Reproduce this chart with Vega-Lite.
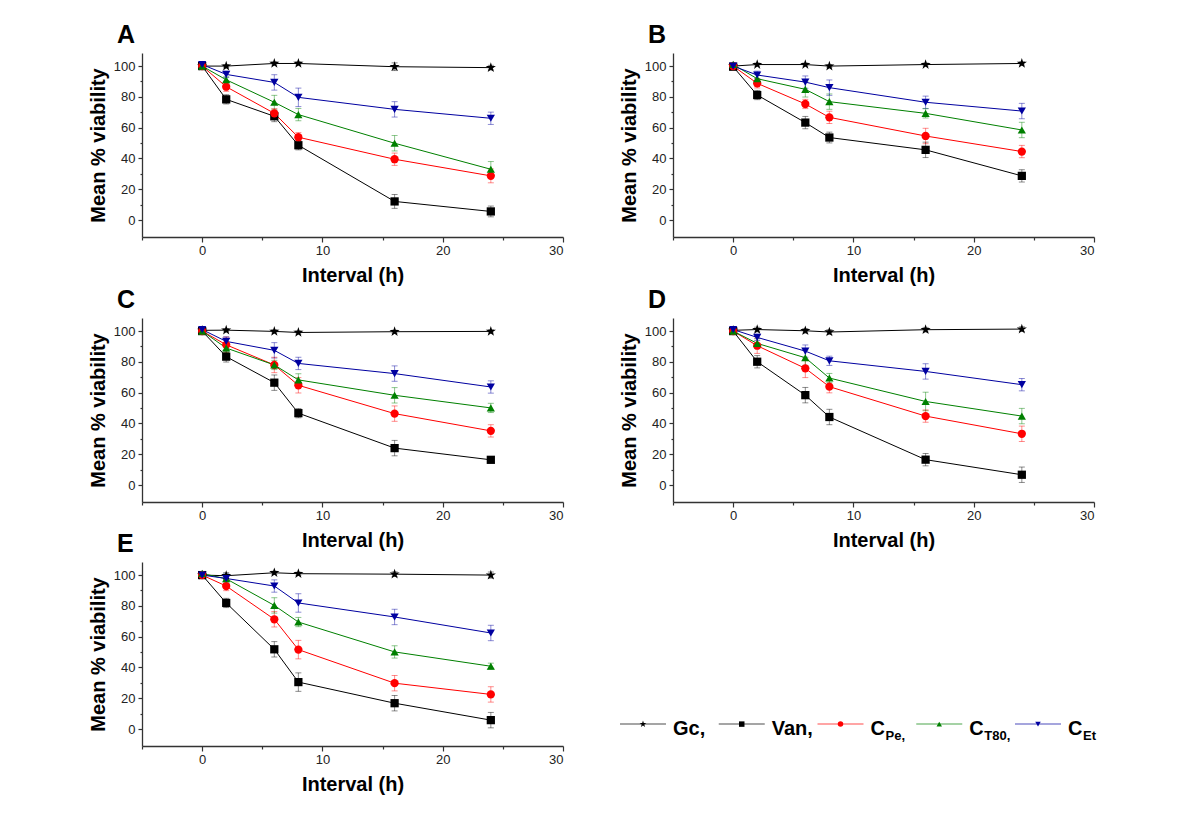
{
"$schema":"https://vega.github.io/schema/vega-lite/v6.json",
"padding":{"left":88,"top":23,"right":5,"bottom":5},
"background":"#ffffff",
"config":{
 "font":"Liberation Sans",
 "view":{"stroke":null},
 "axis":{"grid":false,"domainColor":"#333333","tickColor":"#333333","labelColor":"#222222","labelFontSize":13,"titleFontSize":20,"titleFontWeight":"bold","titleColor":"#000000","domainWidth":1.3,"tickWidth":1.2},
 "axisX":{"labelPadding":2,"titlePadding":8},
 "axisY":{"labelPadding":3,"titlePadding":5},
 "title":{"fontSize":25,"fontWeight":"bold","anchor":"start","frame":"group","dx":-25,"baseline":"alphabetic","offset":5,"color":"#000000"}
},
"datasets":{
"rows":[
{"p":"A","s":"Gc","t":0,"v":100,"e":1},{"p":"A","s":"Gc","t":2,"v":100,"e":1},{"p":"A","s":"Gc","t":6,"v":101.7,"e":1},{"p":"A","s":"Gc","t":8,"v":101.7,"e":1},{"p":"A","s":"Gc","t":16,"v":99.6,"e":2.5},{"p":"A","s":"Gc","t":24,"v":99,"e":1.5},
{"p":"A","s":"Van","t":0,"v":100,"e":1},{"p":"A","s":"Van","t":2,"v":78.4,"e":3},{"p":"A","s":"Van","t":6,"v":67.4,"e":3.5},{"p":"A","s":"Van","t":8,"v":48.6,"e":3},{"p":"A","s":"Van","t":16,"v":12.1,"e":4.5},{"p":"A","s":"Van","t":24,"v":5.6,"e":3.5},
{"p":"A","s":"CPe","t":0,"v":100,"e":1},{"p":"A","s":"CPe","t":2,"v":86.6,"e":3},{"p":"A","s":"CPe","t":6,"v":69.3,"e":3},{"p":"A","s":"CPe","t":8,"v":53.8,"e":3},{"p":"A","s":"CPe","t":16,"v":39.5,"e":4},{"p":"A","s":"CPe","t":24,"v":28.7,"e":4.5},
{"p":"A","s":"CT80","t":0,"v":100,"e":1},{"p":"A","s":"CT80","t":2,"v":91.1,"e":2},{"p":"A","s":"CT80","t":6,"v":76.5,"e":4.5},{"p":"A","s":"CT80","t":8,"v":68.5,"e":4},{"p":"A","s":"CT80","t":16,"v":49.9,"e":5},{"p":"A","s":"CT80","t":24,"v":33,"e":5},
{"p":"A","s":"CEt","t":0,"v":101,"e":1},{"p":"A","s":"CEt","t":2,"v":94.6,"e":2},{"p":"A","s":"CEt","t":6,"v":89.4,"e":5},{"p":"A","s":"CEt","t":8,"v":79.7,"e":6},{"p":"A","s":"CEt","t":16,"v":71.9,"e":5},{"p":"A","s":"CEt","t":24,"v":66.1,"e":4},
{"p":"B","s":"Gc","t":0,"v":100,"e":1},{"p":"B","s":"Gc","t":2,"v":101,"e":1},{"p":"B","s":"Gc","t":6,"v":101,"e":1},{"p":"B","s":"Gc","t":8,"v":100,"e":1},{"p":"B","s":"Gc","t":16,"v":101,"e":1},{"p":"B","s":"Gc","t":24,"v":101.7,"e":1},
{"p":"B","s":"Van","t":0,"v":99.6,"e":1},{"p":"B","s":"Van","t":2,"v":81.2,"e":3},{"p":"B","s":"Van","t":6,"v":63.3,"e":4},{"p":"B","s":"Van","t":8,"v":53.6,"e":3.5},{"p":"B","s":"Van","t":16,"v":45.6,"e":5},{"p":"B","s":"Van","t":24,"v":28.7,"e":4},
{"p":"B","s":"CPe","t":0,"v":100,"e":1},{"p":"B","s":"CPe","t":2,"v":88.8,"e":3},{"p":"B","s":"CPe","t":6,"v":75.4,"e":3},{"p":"B","s":"CPe","t":8,"v":66.7,"e":4},{"p":"B","s":"CPe","t":16,"v":54.6,"e":5},{"p":"B","s":"CPe","t":24,"v":44.5,"e":4},
{"p":"B","s":"CT80","t":0,"v":101,"e":1},{"p":"B","s":"CT80","t":2,"v":91.8,"e":3},{"p":"B","s":"CT80","t":6,"v":84.9,"e":5},{"p":"B","s":"CT80","t":8,"v":76.9,"e":5},{"p":"B","s":"CT80","t":16,"v":69.3,"e":3},{"p":"B","s":"CT80","t":24,"v":58.5,"e":5},
{"p":"B","s":"CEt","t":0,"v":100,"e":1},{"p":"B","s":"CEt","t":2,"v":94.2,"e":2.5},{"p":"B","s":"CEt","t":6,"v":89.6,"e":4},{"p":"B","s":"CEt","t":8,"v":86,"e":5},{"p":"B","s":"CEt","t":16,"v":76.5,"e":4},{"p":"B","s":"CEt","t":24,"v":70.8,"e":5},
{"p":"C","s":"Gc","t":0,"v":100.5,"e":1},{"p":"C","s":"Gc","t":2,"v":100.6,"e":1},{"p":"C","s":"Gc","t":6,"v":99.8,"e":1},{"p":"C","s":"Gc","t":8,"v":99.1,"e":1},{"p":"C","s":"Gc","t":16,"v":99.6,"e":1},{"p":"C","s":"Gc","t":24,"v":99.8,"e":1},
{"p":"C","s":"Van","t":0,"v":100,"e":1},{"p":"C","s":"Van","t":2,"v":83.4,"e":3.5},{"p":"C","s":"Van","t":6,"v":66.5,"e":5},{"p":"C","s":"Van","t":8,"v":46.7,"e":3},{"p":"C","s":"Van","t":16,"v":24,"e":5},{"p":"C","s":"Van","t":24,"v":16.4,"e":1.5},
{"p":"C","s":"CPe","t":0,"v":100,"e":1},{"p":"C","s":"CPe","t":2,"v":91.1,"e":5},{"p":"C","s":"CPe","t":6,"v":78,"e":5},{"p":"C","s":"CPe","t":8,"v":64.8,"e":5},{"p":"C","s":"CPe","t":16,"v":46.4,"e":5},{"p":"C","s":"CPe","t":24,"v":35.2,"e":4},
{"p":"C","s":"CT80","t":0,"v":100,"e":1},{"p":"C","s":"CT80","t":2,"v":89,"e":3},{"p":"C","s":"CT80","t":6,"v":78,"e":3},{"p":"C","s":"CT80","t":8,"v":68.3,"e":4},{"p":"C","s":"CT80","t":16,"v":58.3,"e":5},{"p":"C","s":"CT80","t":24,"v":50.1,"e":3},
{"p":"C","s":"CEt","t":0,"v":101,"e":1},{"p":"C","s":"CEt","t":2,"v":93.3,"e":3},{"p":"C","s":"CEt","t":6,"v":87.5,"e":5},{"p":"C","s":"CEt","t":8,"v":79,"e":4},{"p":"C","s":"CEt","t":16,"v":72.4,"e":5},{"p":"C","s":"CEt","t":24,"v":63.7,"e":4},
{"p":"D","s":"Gc","t":0,"v":100.5,"e":1.5},{"p":"D","s":"Gc","t":2,"v":101,"e":1.5},{"p":"D","s":"Gc","t":6,"v":100.2,"e":1.5},{"p":"D","s":"Gc","t":8,"v":99.4,"e":1.5},{"p":"D","s":"Gc","t":16,"v":100.9,"e":1.5},{"p":"D","s":"Gc","t":24,"v":101.3,"e":1.5},
{"p":"D","s":"Van","t":0,"v":100,"e":1},{"p":"D","s":"Van","t":2,"v":80.1,"e":4},{"p":"D","s":"Van","t":6,"v":58.4,"e":5},{"p":"D","s":"Van","t":8,"v":44.2,"e":5},{"p":"D","s":"Van","t":16,"v":16.5,"e":4},{"p":"D","s":"Van","t":24,"v":6.7,"e":5},
{"p":"D","s":"CPe","t":0,"v":100,"e":1},{"p":"D","s":"CPe","t":2,"v":90.5,"e":5},{"p":"D","s":"CPe","t":6,"v":75.8,"e":6},{"p":"D","s":"CPe","t":8,"v":63.9,"e":4},{"p":"D","s":"CPe","t":16,"v":44.8,"e":4},{"p":"D","s":"CPe","t":24,"v":33.3,"e":5},
{"p":"D","s":"CT80","t":0,"v":100,"e":1},{"p":"D","s":"CT80","t":2,"v":92,"e":3},{"p":"D","s":"CT80","t":6,"v":82.7,"e":5},{"p":"D","s":"CT80","t":8,"v":69.5,"e":3},{"p":"D","s":"CT80","t":16,"v":54.3,"e":6},{"p":"D","s":"CT80","t":24,"v":44.8,"e":5},
{"p":"D","s":"CEt","t":0,"v":101,"e":1},{"p":"D","s":"CEt","t":2,"v":95.9,"e":2},{"p":"D","s":"CEt","t":6,"v":87,"e":4},{"p":"D","s":"CEt","t":8,"v":80.7,"e":3},{"p":"D","s":"CEt","t":16,"v":73.8,"e":5},{"p":"D","s":"CEt","t":24,"v":65.2,"e":4},
{"p":"E","s":"Gc","t":0,"v":100,"e":1},{"p":"E","s":"Gc","t":2,"v":99.6,"e":2},{"p":"E","s":"Gc","t":6,"v":101.5,"e":1},{"p":"E","s":"Gc","t":8,"v":100.9,"e":1},{"p":"E","s":"Gc","t":16,"v":100.6,"e":1.5},{"p":"E","s":"Gc","t":24,"v":100,"e":2},
{"p":"E","s":"Van","t":0,"v":100,"e":1},{"p":"E","s":"Van","t":2,"v":81.9,"e":3},{"p":"E","s":"Van","t":6,"v":51.8,"e":5},{"p":"E","s":"Van","t":8,"v":30.5,"e":6},{"p":"E","s":"Van","t":16,"v":16.8,"e":5},{"p":"E","s":"Van","t":24,"v":5.8,"e":5},
{"p":"E","s":"CPe","t":0,"v":100,"e":1},{"p":"E","s":"CPe","t":2,"v":92.9,"e":3},{"p":"E","s":"CPe","t":6,"v":71.3,"e":5},{"p":"E","s":"CPe","t":8,"v":51.6,"e":6},{"p":"E","s":"CPe","t":16,"v":29.8,"e":5},{"p":"E","s":"CPe","t":24,"v":22.5,"e":5},
{"p":"E","s":"CT80","t":0,"v":101,"e":1},{"p":"E","s":"CT80","t":2,"v":97.6,"e":3},{"p":"E","s":"CT80","t":6,"v":80.3,"e":5},{"p":"E","s":"CT80","t":8,"v":69.5,"e":3},{"p":"E","s":"CT80","t":16,"v":50.1,"e":4},{"p":"E","s":"CT80","t":24,"v":40.8,"e":2},
{"p":"E","s":"CEt","t":0,"v":100,"e":1},{"p":"E","s":"CEt","t":2,"v":97.8,"e":3},{"p":"E","s":"CEt","t":6,"v":92.9,"e":4},{"p":"E","s":"CEt","t":8,"v":81.9,"e":6},{"p":"E","s":"CEt","t":16,"v":72.8,"e":5},{"p":"E","s":"CEt","t":24,"v":62.4,"e":5}
],
"legend":[
{"s":"Gc","main":"Gc,","sub":""},
{"s":"Van","main":"Van,","sub":""},
{"s":"CPe","main":"C","sub":"Pe,"},
{"s":"CT80","main":"C","sub":"T80,"},
{"s":"CEt","main":"C","sub":"Et"}
]
},
"vconcat":[
{"vconcat":[
 {"hconcat":[
  {"title":{"text":"A"},"width":421,"height":184,"data":{"name":"rows"},"transform":[{"filter":"datum.p === 'A'"}],
   "encoding":{
    "x":{"field":"t","type":"quantitative","scale":{"domain":[-5,30],"nice":false,"zero":false},"axis":{"title":"Interval (h)","values":[-5,0,5,10,15,20,25,30],"labelExpr":"datum.value % 10 === 0 ? datum.label : ''","tickSize":{"condition":{"test":"datum.value % 10 === 0","value":5},"value":3}}},
    "y":{"field":"v","type":"quantitative","scale":{"domain":[-11,108.5],"nice":false,"zero":false},"axis":{"title":"Mean % viability","values":[0,10,20,30,40,50,60,70,80,90,100],"labelExpr":"datum.value % 20 === 0 ? datum.label : ''","tickSize":{"condition":{"test":"datum.value % 20 === 0","value":4},"value":2}}},
    "color":{"field":"s","type":"nominal","scale":{"domain":["Gc","Van","CPe","CT80","CEt"],"range":["#000000","#000000","#ff0000","#008000","#0000a0"]},"legend":null}
   },
   "layer":[
    {"mark":{"type":"errorbar","ticks":{"size":6},"opacity":0.45},"encoding":{"yError":{"field":"e"}}},
    {"mark":{"type":"line","strokeWidth":1}},
    {"mark":{"type":"point","filled":true,"size":68,"opacity":1},"encoding":{"shape":{"field":"s","type":"nominal","scale":{"domain":["Gc","Van","CPe","CT80","CEt"],"range":["M0,-1.3L0.293,-0.402L1.236,-0.402L0.472,0.153L0.764,1.052L0,0.497L-0.764,1.052L-0.472,0.153L-1.236,-0.402L-0.293,-0.402Z","square","circle","triangle-up","triangle-down"]},"legend":null}}}
   ]},
  {"title":{"text":"B"},"width":421,"height":184,"data":{"name":"rows"},"transform":[{"filter":"datum.p === 'B'"}],
   "encoding":{
    "x":{"field":"t","type":"quantitative","scale":{"domain":[-5,30],"nice":false,"zero":false},"axis":{"title":"Interval (h)","values":[-5,0,5,10,15,20,25,30],"labelExpr":"datum.value % 10 === 0 ? datum.label : ''","tickSize":{"condition":{"test":"datum.value % 10 === 0","value":5},"value":3}}},
    "y":{"field":"v","type":"quantitative","scale":{"domain":[-11,108.5],"nice":false,"zero":false},"axis":{"title":"Mean % viability","values":[0,10,20,30,40,50,60,70,80,90,100],"labelExpr":"datum.value % 20 === 0 ? datum.label : ''","tickSize":{"condition":{"test":"datum.value % 20 === 0","value":4},"value":2}}},
    "color":{"field":"s","type":"nominal","scale":{"domain":["Gc","Van","CPe","CT80","CEt"],"range":["#000000","#000000","#ff0000","#008000","#0000a0"]},"legend":null}
   },
   "layer":[
    {"mark":{"type":"errorbar","ticks":{"size":6},"opacity":0.45},"encoding":{"yError":{"field":"e"}}},
    {"mark":{"type":"line","strokeWidth":1}},
    {"mark":{"type":"point","filled":true,"size":68,"opacity":1},"encoding":{"shape":{"field":"s","type":"nominal","scale":{"domain":["Gc","Van","CPe","CT80","CEt"],"range":["M0,-1.3L0.293,-0.402L1.236,-0.402L0.472,0.153L0.764,1.052L0,0.497L-0.764,1.052L-0.472,0.153L-1.236,-0.402L-0.293,-0.402Z","square","circle","triangle-up","triangle-down"]},"legend":null}}}
   ]}
 ],"spacing":55},
 {"hconcat":[
  {"title":{"text":"C"},"width":421,"height":184,"data":{"name":"rows"},"transform":[{"filter":"datum.p === 'C'"}],
   "encoding":{
    "x":{"field":"t","type":"quantitative","scale":{"domain":[-5,30],"nice":false,"zero":false},"axis":{"title":"Interval (h)","values":[-5,0,5,10,15,20,25,30],"labelExpr":"datum.value % 10 === 0 ? datum.label : ''","tickSize":{"condition":{"test":"datum.value % 10 === 0","value":5},"value":3}}},
    "y":{"field":"v","type":"quantitative","scale":{"domain":[-11,108.5],"nice":false,"zero":false},"axis":{"title":"Mean % viability","values":[0,10,20,30,40,50,60,70,80,90,100],"labelExpr":"datum.value % 20 === 0 ? datum.label : ''","tickSize":{"condition":{"test":"datum.value % 20 === 0","value":4},"value":2}}},
    "color":{"field":"s","type":"nominal","scale":{"domain":["Gc","Van","CPe","CT80","CEt"],"range":["#000000","#000000","#ff0000","#008000","#0000a0"]},"legend":null}
   },
   "layer":[
    {"mark":{"type":"errorbar","ticks":{"size":6},"opacity":0.45},"encoding":{"yError":{"field":"e"}}},
    {"mark":{"type":"line","strokeWidth":1}},
    {"mark":{"type":"point","filled":true,"size":68,"opacity":1},"encoding":{"shape":{"field":"s","type":"nominal","scale":{"domain":["Gc","Van","CPe","CT80","CEt"],"range":["M0,-1.3L0.293,-0.402L1.236,-0.402L0.472,0.153L0.764,1.052L0,0.497L-0.764,1.052L-0.472,0.153L-1.236,-0.402L-0.293,-0.402Z","square","circle","triangle-up","triangle-down"]},"legend":null}}}
   ]},
  {"title":{"text":"D"},"width":421,"height":184,"data":{"name":"rows"},"transform":[{"filter":"datum.p === 'D'"}],
   "encoding":{
    "x":{"field":"t","type":"quantitative","scale":{"domain":[-5,30],"nice":false,"zero":false},"axis":{"title":"Interval (h)","values":[-5,0,5,10,15,20,25,30],"labelExpr":"datum.value % 10 === 0 ? datum.label : ''","tickSize":{"condition":{"test":"datum.value % 10 === 0","value":5},"value":3}}},
    "y":{"field":"v","type":"quantitative","scale":{"domain":[-11,108.5],"nice":false,"zero":false},"axis":{"title":"Mean % viability","values":[0,10,20,30,40,50,60,70,80,90,100],"labelExpr":"datum.value % 20 === 0 ? datum.label : ''","tickSize":{"condition":{"test":"datum.value % 20 === 0","value":4},"value":2}}},
    "color":{"field":"s","type":"nominal","scale":{"domain":["Gc","Van","CPe","CT80","CEt"],"range":["#000000","#000000","#ff0000","#008000","#0000a0"]},"legend":null}
   },
   "layer":[
    {"mark":{"type":"errorbar","ticks":{"size":6},"opacity":0.45},"encoding":{"yError":{"field":"e"}}},
    {"mark":{"type":"line","strokeWidth":1}},
    {"mark":{"type":"point","filled":true,"size":68,"opacity":1},"encoding":{"shape":{"field":"s","type":"nominal","scale":{"domain":["Gc","Van","CPe","CT80","CEt"],"range":["M0,-1.3L0.293,-0.402L1.236,-0.402L0.472,0.153L0.764,1.052L0,0.497L-0.764,1.052L-0.472,0.153L-1.236,-0.402L-0.293,-0.402Z","square","circle","triangle-up","triangle-down"]},"legend":null}}}
   ]}
 ],"spacing":55}
],"spacing":3},
{"hconcat":[
  {"title":{"text":"E"},"width":421,"height":184,"data":{"name":"rows"},"transform":[{"filter":"datum.p === 'E'"}],
   "encoding":{
    "x":{"field":"t","type":"quantitative","scale":{"domain":[-5,30],"nice":false,"zero":false},"axis":{"title":"Interval (h)","values":[-5,0,5,10,15,20,25,30],"labelExpr":"datum.value % 10 === 0 ? datum.label : ''","tickSize":{"condition":{"test":"datum.value % 10 === 0","value":5},"value":3}}},
    "y":{"field":"v","type":"quantitative","scale":{"domain":[-11,108.5],"nice":false,"zero":false},"axis":{"title":"Mean % viability","values":[0,10,20,30,40,50,60,70,80,90,100],"labelExpr":"datum.value % 20 === 0 ? datum.label : ''","tickSize":{"condition":{"test":"datum.value % 20 === 0","value":4},"value":2}}},
    "color":{"field":"s","type":"nominal","scale":{"domain":["Gc","Van","CPe","CT80","CEt"],"range":["#000000","#000000","#ff0000","#008000","#0000a0"]},"legend":null}
   },
   "layer":[
    {"mark":{"type":"errorbar","ticks":{"size":6},"opacity":0.45},"encoding":{"yError":{"field":"e"}}},
    {"mark":{"type":"line","strokeWidth":1}},
    {"mark":{"type":"point","filled":true,"size":68,"opacity":1},"encoding":{"shape":{"field":"s","type":"nominal","scale":{"domain":["Gc","Van","CPe","CT80","CEt"],"range":["M0,-1.3L0.293,-0.402L1.236,-0.402L0.472,0.153L0.764,1.052L0,0.497L-0.764,1.052L-0.472,0.153L-1.236,-0.402L-0.293,-0.402Z","square","circle","triangle-up","triangle-down"]},"legend":null}}}
   ]},
  {"width":443,"height":184,"data":{"name":"legend"},
   "encoding":{
    "x":{"field":"s","type":"nominal","sort":null,"scale":{"type":"point","domain":["Gc","Van","CPe","CT80","CEt"],"padding":0.243},"axis":null},
    "y":{"datum":0.119,"type":"quantitative","scale":{"domain":[0,1]},"axis":null},
    "color":{"field":"s","type":"nominal","scale":{"domain":["Gc","Van","CPe","CT80","CEt"],"range":["#000000","#000000","#ff0000","#008000","#0000a0"]},"legend":null}
   },
   "layer":[
    {"mark":{"type":"tick","size":46,"thickness":1}},
    {"mark":{"type":"point","filled":true,"size":30,"opacity":1},"encoding":{"shape":{"field":"s","type":"nominal","scale":{"domain":["Gc","Van","CPe","CT80","CEt"],"range":["M0,-1.3L0.293,-0.402L1.236,-0.402L0.472,0.153L0.764,1.052L0,0.497L-0.764,1.052L-0.472,0.153L-1.236,-0.402L-0.293,-0.402Z","square","circle","triangle-up","triangle-down"]},"legend":null}}},
    {"mark":{"type":"text","align":"left","baseline":"alphabetic","dx":30,"dy":11,"fontSize":20,"fontWeight":"bold"},"encoding":{"text":{"field":"main"},"color":{"value":"#000000"}}},
    {"mark":{"type":"text","align":"left","baseline":"alphabetic","dx":45,"dy":16,"fontSize":13,"fontWeight":"bold"},"encoding":{"text":{"field":"sub"},"color":{"value":"#000000"}}}
   ]}
 ],"spacing":55}
],
"spacing":-18
}
